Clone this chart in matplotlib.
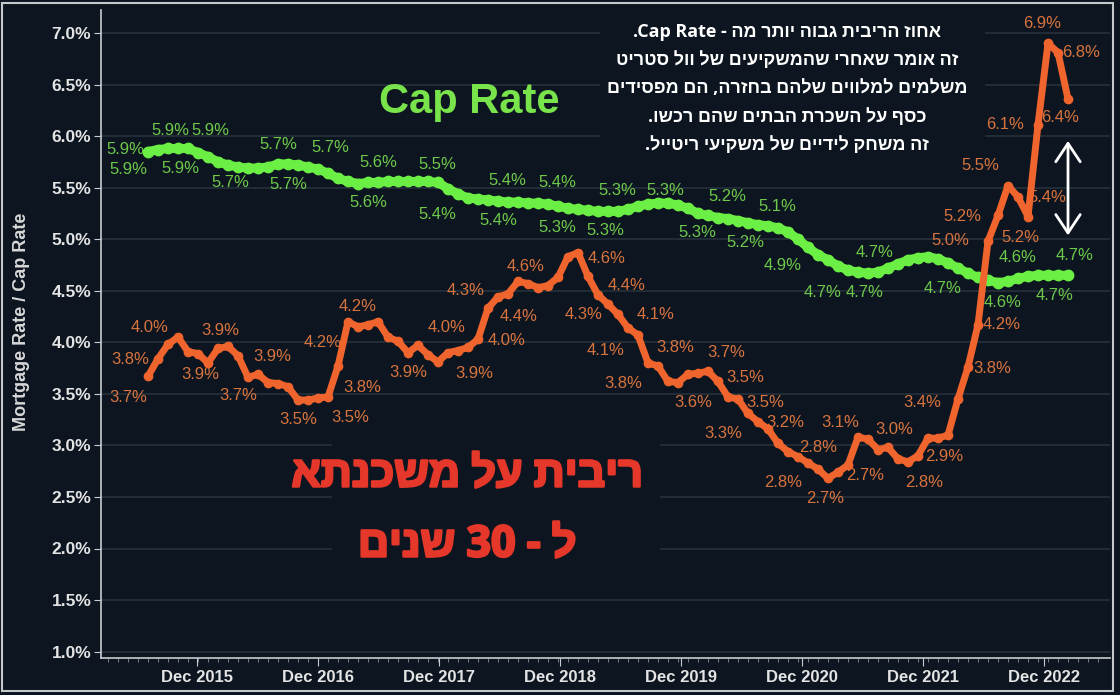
import re

import matplotlib

matplotlib.use("Agg")
import matplotlib.pyplot as plt
import matplotlib.patheffects as pe
from matplotlib.patches import Rectangle
import numpy as np


# monthly series, Apr 2015 .. Dec 2022 (index 0 = Apr 2015)
MORTGAGE = [3.67, 3.84, 3.98, 4.05, 3.91, 3.89, 3.80, 3.94, 3.96,
            3.87, 3.66, 3.69, 3.61, 3.60, 3.57, 3.44, 3.44, 3.46, 3.47, 3.77, 4.20,
            4.15, 4.17, 4.20, 4.05, 4.01, 3.90, 3.97, 3.88, 3.81, 3.90, 3.92, 3.95,
            4.03, 4.33, 4.44, 4.47, 4.59, 4.57, 4.53, 4.55, 4.63, 4.83, 4.87, 4.64,
            4.46, 4.37, 4.27, 4.14, 4.07, 3.80, 3.77, 3.62, 3.61, 3.69, 3.70, 3.72,
            3.62, 3.47, 3.45, 3.31, 3.23, 3.16, 3.02, 2.94, 2.89, 2.83, 2.77, 2.68,
            2.74, 2.81, 3.08, 3.06, 2.96, 2.98, 2.87, 2.84, 2.90, 3.07, 3.07, 3.10,
            3.45, 3.76, 4.17, 4.98, 5.23, 5.52, 5.41, 5.22, 6.11, 6.90, 6.81, 6.36]

CAP_RATE = [5.85, 5.87, 5.88, 5.88, 5.88, 5.84, 5.80, 5.75, 5.72,
            5.70, 5.69, 5.69, 5.70, 5.73, 5.73, 5.72, 5.70, 5.68, 5.64, 5.59, 5.56,
            5.54, 5.55, 5.55, 5.56, 5.56, 5.56, 5.56, 5.56, 5.55, 5.49, 5.44, 5.40,
            5.39, 5.38, 5.37, 5.36, 5.36, 5.35, 5.35, 5.34, 5.32, 5.30, 5.29, 5.28,
            5.27, 5.27, 5.27, 5.29, 5.32, 5.34, 5.35, 5.35, 5.33, 5.30, 5.25, 5.23,
            5.21, 5.20, 5.18, 5.16, 5.14, 5.13, 5.11, 5.07, 5.00, 4.92, 4.85, 4.80,
            4.74, 4.70, 4.68, 4.67, 4.68, 4.72, 4.76, 4.80, 4.82, 4.83, 4.81, 4.77,
            4.72, 4.67, 4.63, 4.60, 4.58, 4.59, 4.62, 4.64, 4.65, 4.65, 4.65, 4.65]

# point labels shown on the chart
MORT_LABEL_IDX = [0, 1, 2, 5, 7, 9, 10, 17, 18, 19, 20, 22, 26, 30, 31, 33, 34, 35,
                  37, 44, 46, 47, 48, 49, 50, 51, 53, 55, 58, 59, 60, 61, 66, 67, 68,
                  69, 71, 74, 76, 77, 81, 82, 83, 84, 85, 86, 87, 88, 89, 90, 91, 92]
MORT_LABEL_TXT = ["3.7%", "3.8%", "4.0%", "3.9%", "3.9%", "3.9%", "3.7%", "3.5%", "3.5%",
                  "3.8%", "4.2%", "4.2%", "3.9%", "4.0%", "3.9%", "4.0%", "4.3%", "4.4%",
                  "4.6%", "4.6%", "4.4%", "4.3%", "4.1%", "4.1%", "3.8%", "3.8%", "3.6%",
                  "3.7%", "3.5%", "3.5%", "3.3%", "3.2%", "2.8%", "2.8%", "2.7%", "2.7%",
                  "3.1%", "3.0%", "2.8%", "2.9%", "3.4%", "3.8%", "4.2%", "5.0%", "5.2%",
                  "5.5%", "5.4%", "5.2%", "6.1%", "6.9%", "6.8%", "6.4%"]
CAP_LABEL_IDX = [0, 1, 2, 3, 4, 8, 13, 14, 17, 22, 23, 29, 30, 35, 36, 40, 41, 46, 47,
                 52, 55, 58, 59, 63, 66, 70, 72, 73, 81, 85, 86, 90, 92]
CAP_LABEL_TXT = ["5.9%", "5.9%", "5.9%", "5.9%", "5.9%", "5.7%", "5.7%", "5.7%", "5.7%",
                 "5.6%", "5.6%", "5.5%", "5.4%", "5.4%", "5.4%", "5.3%", "5.4%", "5.3%",
                 "5.3%", "5.3%", "5.3%", "5.2%", "5.2%", "5.1%", "4.9%", "4.7%", "4.7%",
                 "4.7%", "4.7%", "4.6%", "4.6%", "4.7%", "4.7%"]

XTICK_LABELS = ["Dec 2015", "Dec 2016", "Dec 2017", "Dec 2018",
                "Dec 2019", "Dec 2020", "Dec 2021", "Dec 2022"]

NOTE_LINES = ["אחוז הריבית גבוה יותר מה - Cap Rate.",
              "זה אומר שאחרי שהמשקיעים של וול סטריט",
              "משלמים למלווים שלהם בחזרה, הם מפסידים",
              "כסף על השכרת הבתים שהם רכשו.",
              "זה משחק לידיים של משקיעי ריטייל."]
MORT_TITLE = ["ריבית על משכנתא", "ל - 30 שנים"]

# label offsets in pixels (dx right, dy down), same order as the label lists
MORT_OFFS = [(-20, 21), (-28, 1), (-18, -17), (2, 21), (2, -18), (34, 1), (-10, 18),
             (-20, 22), (22, 21), (24, 21), (-25, 21), (-10, -18), (0, 20), (-1, -25),
             (16, 23), (29, 1), (-22, -18), (21, 20), (8, -15), (19, -18), (19, -19),
             (-34, 0), (28, -13), (-32, 15), (27, -15), (-35, 17), (15, 20), (28, -21),
             (17, -19), (27, 3), (-25, 20), (27, 1), (-25, 20), (0, -22), (-3, 20),
             (27, 3), (-18, -15), (6, -18), (16, 21), (26, 1), (-36, 3), (24, 1),
             (24, 0), (-38, -1), (-36, 1), (-28, -20), (29, 1), (-8, 21), (-33, 0),
             (-6, -20), (23, 0), (-8, 19)]
CAP_OFFS = [(-23, -2), (-30, 20), (2, -18), (2, 20), (22, -18), (2, 18), (0, -19),
            (0, 21), (12, -22), (0, 20), (0, -20), (-1, -18), (-11, 26), (0, 19),
            (-1, -22), (9, 23), (-1, -24), (-3, 19), (-1, -21), (-3, -13), (-1, 19),
            (-1, -22), (7, 22), (-1, -21), (-25, 18), (-25, 22), (-3, 19), (-3, -20),
            (-15, 20), (5, 20), (10, -24), (7, 20), (7, -20)]

BG = "#0c1520"
GRID = "#27313c"
ORANGE = "#f0642d"
ORANGE_TXT = "#d8743e"
GREEN = "#6cef45"
GREEN_TXT = "#6ec94b"
RED = "#e5372a"

W, H = 1120, 695


def rtl(text):
    # matplotlib has no bidi support: put an RTL line into visual order,
    # keeping latin words and numbers left-to-right
    runs = re.findall(r"[A-Za-z0-9](?:[A-Za-z0-9 ]*[A-Za-z0-9])?|.", text)
    return "".join(reversed(runs))


def fx(px):
    return px / W


def fy(py):
    return 1 - py / H


def main() -> None:
    plt.rcParams["font.family"] = ["Liberation Sans", "DejaVu Sans"]
    heb = ["Open Sans", "Liberation Sans", "DejaVu Sans"]

    fig = plt.figure(figsize=(W / 100, H / 100), dpi=100, facecolor=BG)
    ax = fig.add_axes([fx(101), fy(658), fx(1110) - fx(101), fy(10) - fy(658)])
    ax.set_facecolor(BG)

    x = np.arange(len(MORTGAGE))
    ax.plot(x, CAP_RATE, color=GREEN, lw=6.5, marker="o", ms=7.5,
            solid_joinstyle="round", solid_capstyle="round", zorder=4)
    ax.plot(x, MORTGAGE, color=ORANGE, lw=5, marker="o", ms=6,
            solid_joinstyle="round", solid_capstyle="round", zorder=5)

    for i, t, (dx, dy) in zip(MORT_LABEL_IDX, MORT_LABEL_TXT, MORT_OFFS):
        ax.annotate(t, (x[i], MORTGAGE[i]), xytext=(dx, -dy), textcoords="offset pixels",
                    ha="center", va="center", fontsize=12, color=ORANGE_TXT, zorder=3)
    for i, t, (dx, dy) in zip(CAP_LABEL_IDX, CAP_LABEL_TXT, CAP_OFFS):
        ax.annotate(t, (x[i], CAP_RATE[i]), xytext=(dx, -dy), textcoords="offset pixels",
                    ha="center", va="center", fontsize=12, color=GREEN_TXT, zorder=3)

    # axes
    ax.set_xlim((101 - 148) / 10, (1110 - 148) / 10)
    ax.set_ylim(7 - (658 - 33) / 103.1, 7 + (33 - 10) / 103.1)
    yt = np.arange(1.0, 7.01, 0.5)
    ax.set_yticks(yt, [f"{v:.1f}%" for v in yt])
    ax.set_xticks(4.9 + 12.1 * np.arange(len(XTICK_LABELS)), XTICK_LABELS)
    ax.set_xticks(np.arange(-4, 96), minor=True)
    ax.grid(axis="y", color=GRID, lw=1.2)
    ax.set_axisbelow(True)
    for s in ["top", "right"]:
        ax.spines[s].set_visible(False)
    for s in ["left", "bottom"]:
        ax.spines[s].set_color("#c9ccd0")
        ax.spines[s].set_linewidth(1.2)
    ax.tick_params(axis="y", colors="#c9ccd0", labelcolor="#e4e4e4", length=5, pad=2,
                   labelsize=12.5)
    ax.tick_params(axis="x", which="major", colors="#c9ccd0", labelcolor="#e4e4e4",
                   length=6, pad=3, labelsize=12)
    ax.tick_params(axis="x", which="minor", colors="#8a9098", length=3)
    for lab in ax.get_yticklabels():
        lab.set_fontweight("bold")
    for lab in ax.get_xticklabels():
        lab.set_fontweight("bold")

    fig.text(fx(22), fy(322), "Mortgage Rate / Cap Rate", rotation=90, ha="center",
             va="center", fontsize=13, fontweight="bold", color="#d8d8d8")

    # annotations
    ax.text(fx(469), fy(102), "Cap Rate", transform=fig.transFigure, ha="center",
            va="center", fontsize=30, fontweight="bold", color="#79e34b", zorder=6)

    ax.add_patch(Rectangle((fx(332), fy(582)), fx(660) - fx(332), fy(440) - fy(582),
                           transform=fig.transFigure, facecolor=BG, edgecolor="none",
                           zorder=1))
    for line, py in zip(MORT_TITLE, [475, 545]):
        ax.text(fx(467), fy(py), rtl(line), transform=fig.transFigure, ha="center",
                va="center", fontsize=31, fontweight="bold", color=RED,
                family=heb, zorder=6,
                path_effects=[pe.withStroke(linewidth=1.8, foreground=RED)])

    ax.add_patch(Rectangle((fx(600), fy(158)), fx(985) - fx(600), fy(14) - fy(158),
                           transform=fig.transFigure, facecolor=BG, edgecolor="none",
                           zorder=1))
    for line, py in zip(NOTE_LINES, [32, 60, 88, 117, 145]):
        ax.text(fx(787), fy(py), rtl(line), transform=fig.transFigure, ha="center",
                va="center", fontsize=13, fontweight="bold", color="white",
                family=heb, zorder=6)

    ax.annotate("", xy=(92, 5.98), xytext=(92, 5.01),
                arrowprops=dict(arrowstyle="<->,head_length=0.6,head_width=0.4",
                                color="white", lw=2, mutation_scale=22), zorder=6)

    fig.patches.append(Rectangle((0.002, 0.006), 0.992, 0.99, transform=fig.transFigure,
                                 fill=False, edgecolor="#c5c9cc", lw=1.5))

    fig.savefig("out.png", dpi=100, facecolor=BG)
    plt.close(fig)


if __name__ == "__main__":
    main()
